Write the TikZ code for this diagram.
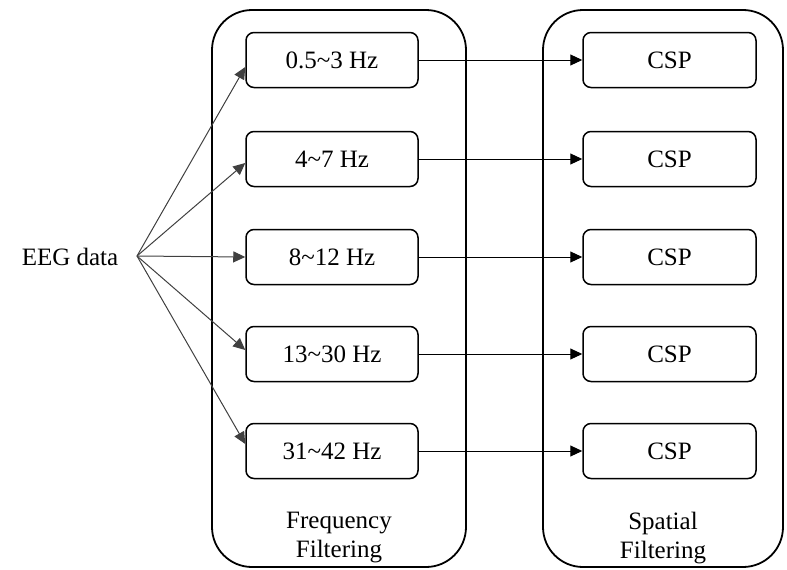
\documentclass[tikz,border=0pt]{standalone}
\usepackage{fontspec}
\setmainfont{Liberation Serif}
\usetikzlibrary{arrows.meta,calc}
\begin{document}
\begin{tikzpicture}[x=1pt,y=-1pt,
  band/.style={draw, line width=1.5pt, rounded corners=8pt, minimum height=55pt, inner sep=0pt, font=\fontsize{25}{29}\selectfont},
  fbox/.style={band, minimum width=172pt},
  cbox/.style={band, minimum width=173pt},
  group/.style={draw, line width=1.8pt, rounded corners=40pt},
  arr/.style={-{Triangle[length=12pt,width=11pt]}, line width=1pt},
  fan/.style={arr, draw=black!75},
  lbl/.style={font=\fontsize{25}{29}\selectfont, align=center}]
\useasboundingbox (0,0) rectangle (787,570);
\draw[group] (212,10) rectangle (466,567);
\draw[group] (543,10) rectangle (783,567);
\node[font=\fontsize{25}{29}\selectfont] (eeg) at (70,257) {EEG data};
\coordinate (o) at (137,256);
\node[fbox] (f1) at (332,60) {0.5\textasciitilde 3 Hz};
\node[fbox] (f2) at (332,159) {4\textasciitilde 7 Hz};
\node[fbox] (f3) at (332,257) {8\textasciitilde 12 Hz};
\node[fbox] (f4) at (332,354) {13\textasciitilde 30 Hz};
\node[fbox] (f5) at (332,451) {31\textasciitilde 42 Hz};
\foreach \i/\y in {1/60,2/159,3/257,4/354,5/451}{
  \node[cbox] (c\i) at (669.5,\y) {CSP};
  \draw[arr] (f\i.east) -- (c\i.west);
}
\draw[fan] (o) -- ($(f1.west)+(0,7)$);
\draw[fan] (o) -- ($(f2.west)+(0,4)$);
\draw[fan] (o) -- (f3.west);
\draw[fan] (o) -- ($(f4.west)+(0,-4)$);
\draw[fan] (o) -- ($(f5.west)+(0,-7)$);
\node[lbl] (fl) at (339,538) {Frequency\\Filtering};
\node[lbl] (sl) at (663,538) {Spatial\\Filtering};
\end{tikzpicture}
\end{document}
